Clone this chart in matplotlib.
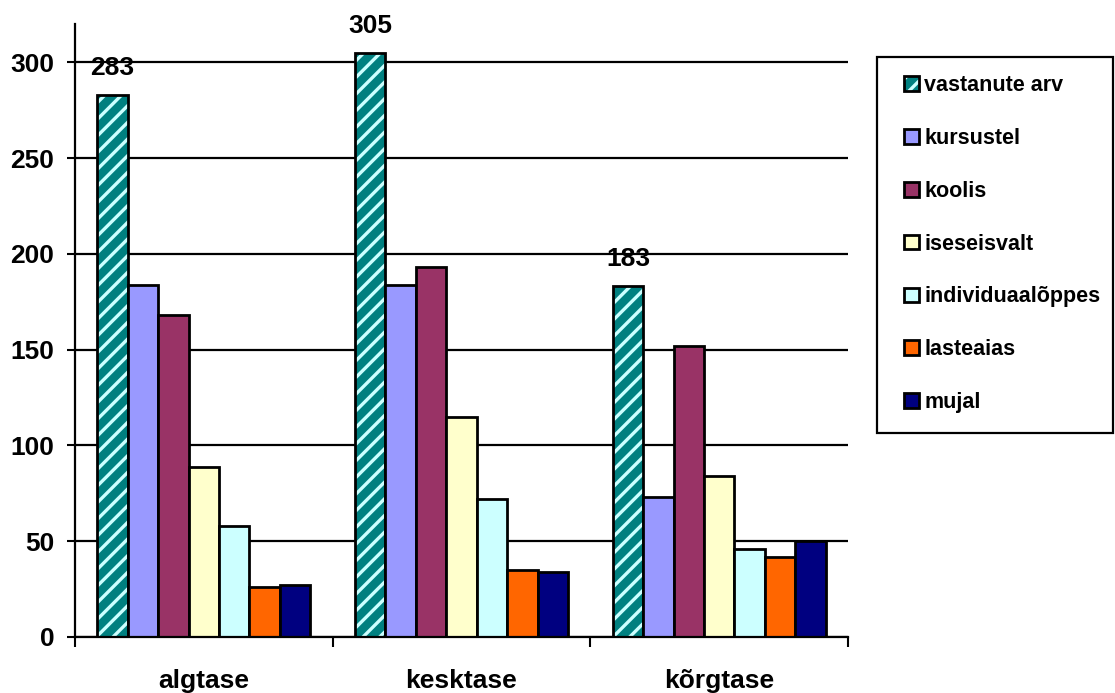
import numpy as np
import matplotlib
matplotlib.use("Agg")
import matplotlib.pyplot as plt
from matplotlib.patches import Patch, Rectangle
from matplotlib.legend_handler import HandlerTuple

# Data
categories = ["algtase", "kesktase", "kõrgtase"]
series_names = ["vastanute arv", "kursustel", "koolis", "iseseisvalt",
                "individuaalõppes", "lasteaias", "mujal"]
vastanute_arv = [283, 305, 183]
kursustel = [184, 184, 73]
koolis = [168, 193, 152]
iseseisvalt = [89, 115, 84]
individuaaloppes = [58, 72, 46]
lasteaias = [26, 35, 42]
mujal = [27, 34, 50]

all_series = [vastanute_arv, kursustel, koolis, iseseisvalt,
              individuaaloppes, lasteaias, mujal]
colors = ["#008080", "#9999FF", "#993366", "#FFFFCC",
          "#CCFFFF", "#FF6600", "#000080"]
stripe_color = "#CCFFFF"

plt.rcParams["font.family"] = ["Liberation Sans", "DejaVu Sans"]
plt.rcParams["font.weight"] = "bold"
plt.rcParams["hatch.linewidth"] = 2.4

fig = plt.figure(figsize=(11.15, 6.93), dpi=100)
ax = fig.add_axes([75 / 1115, 56 / 693, (848 - 75) / 1115, (637 - 24) / 693])

x = np.arange(len(categories))
width = 0.118
handles = []
for i, (name, vals, col) in enumerate(zip(series_names, all_series, colors)):
    pos = x + (i - 3) * width
    if i == 0:
        # hatched first series: stripes drawn with their own colour, outline on top
        ax.bar(pos, vals, width, color=col, edgecolor=stripe_color,
               hatch="//", linewidth=0, zorder=2)
        ax.bar(pos, vals, width, facecolor="none", edgecolor="black",
               linewidth=2, zorder=3)
        for xp, v in zip(pos, vals):
            ax.annotate(str(v), (xp, v), xytext=(0, 14.4), textcoords="offset points",
                        ha="center", va="baseline", fontsize=19, fontweight="bold",
                        zorder=5)
        handles.append((Patch(facecolor=col, edgecolor=stripe_color, hatch="//", linewidth=0),
                        Patch(facecolor="none", edgecolor="black", linewidth=2)))
    else:
        ax.bar(pos, vals, width, color=col, edgecolor="black",
               linewidth=2, zorder=3)
        handles.append(Patch(facecolor=col, edgecolor="black", linewidth=2))

ax.set_xlim(-0.5, 2.5)
ax.set_ylim(0, 320)
ax.set_yticks(range(0, 301, 50))
ax.set_xticks(x)
ax.set_xticklabels(categories)
ax.set_xticks([-0.5, 0.5, 1.5, 2.5], minor=True)
ax.tick_params(axis="x", which="major", length=0, pad=23, labelsize=19)
ax.tick_params(axis="x", which="minor", length=7, width=1.5, direction="out")
ax.tick_params(axis="y", length=6, width=1.5, direction="out", pad=9, labelsize=19)

ax.yaxis.grid(True, color="black", linewidth=1.6, zorder=0)
ax.set_axisbelow(True)
for side in ["top", "right"]:
    ax.spines[side].set_visible(False)
for side in ["left", "bottom"]:
    ax.spines[side].set_linewidth(1.6)
    ax.spines[side].set_zorder(4)

# legend box drawn by hand so the padding can match
fig.patches.append(Rectangle((877 / 1115, 1 - 433 / 693), (1113 - 877) / 1115,
                             (433 - 57) / 693, transform=fig.transFigure,
                             facecolor="white", edgecolor="black", linewidth=1.6))
leg = fig.legend(handles, series_names, loc="upper left",
                 bbox_to_anchor=(904 / 1115, 1 - 75 / 693), frameon=False,
                 prop={"size": 15.5, "weight": "bold"}, handlelength=0.68,
                 handleheight=0.68, handletextpad=0.25, labelspacing=1.48,
                 borderpad=0, borderaxespad=0,
                 handler_map={tuple: HandlerTuple(ndivide=1, pad=0)})

fig.savefig("out.png", dpi=100)
